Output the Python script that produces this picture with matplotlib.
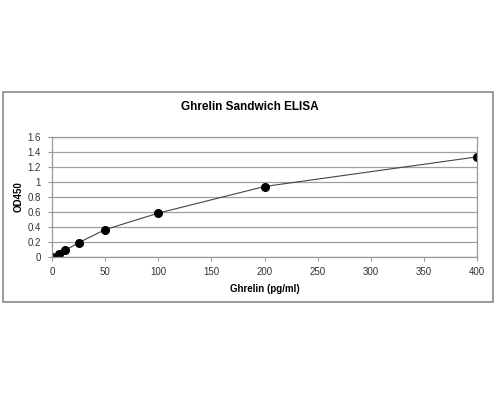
import matplotlib
matplotlib.use('Agg')
from matplotlib import pyplot as plt
from matplotlib.patches import Rectangle

# standard curve readings
conc = [0, 6.25, 12.5, 25, 50, 100, 200, 400]
od450 = [0.0, 0.036, 0.09, 0.19, 0.365, 0.585, 0.94, 1.335]
yticks = [0, 0.2, 0.4, 0.6, 0.8, 1, 1.2, 1.4, 1.6]
yticklabels = ['0', '0.2', '0.4', '0.6', '0.8', '1', '1.2', '1.4', '1.6']
xticks = [0, 50, 100, 150, 200, 250, 300, 350, 400]

plt.rcParams['font.family'] = ['Liberation Sans', 'DejaVu Sans']

fig = plt.figure(figsize=(5, 4), dpi=100, facecolor='w')
fig.patches.append(Rectangle((0.006, 0.245), 0.98, 0.525, transform=fig.transFigure,
                             fill=False, edgecolor='#8a8a8a', linewidth=1.2))

ax = fig.add_axes([0.104, 0.3575, 0.85, 0.30])
ax.plot(conc, od450, color='#444444', linewidth=0.8, marker='o',
        markersize=5.5, markerfacecolor='black', markeredgecolor='black')

ax.set_xlim(0, 400)
ax.set_ylim(0, 1.6)
ax.set_yticks(yticks)
ax.set_yticklabels(yticklabels)
ax.set_xticks(xticks)
ax.yaxis.grid(True, color='#a0a0a0', linewidth=0.9)
ax.set_axisbelow(True)
for s in ax.spines.values():
    s.set_color('#9a9a9a')
    s.set_linewidth(0.9)
ax.tick_params(axis='both', length=3, color='#9a9a9a', labelsize=7, labelcolor='#333333')
ax.tick_params(axis='x', pad=4)
ax.tick_params(axis='y', pad=5)

ax.set_xlabel('Ghrelin (pg/ml)', fontsize=7, fontweight='bold', labelpad=5)
ax.set_ylabel('OD450', fontsize=7, fontweight='bold', labelpad=3)
fig.text(0.5, 0.7325, 'Ghrelin Sandwich ELISA', ha='center', va='center',
         fontsize=8.5, fontweight='bold')

fig.savefig('out.png', dpi=100)
